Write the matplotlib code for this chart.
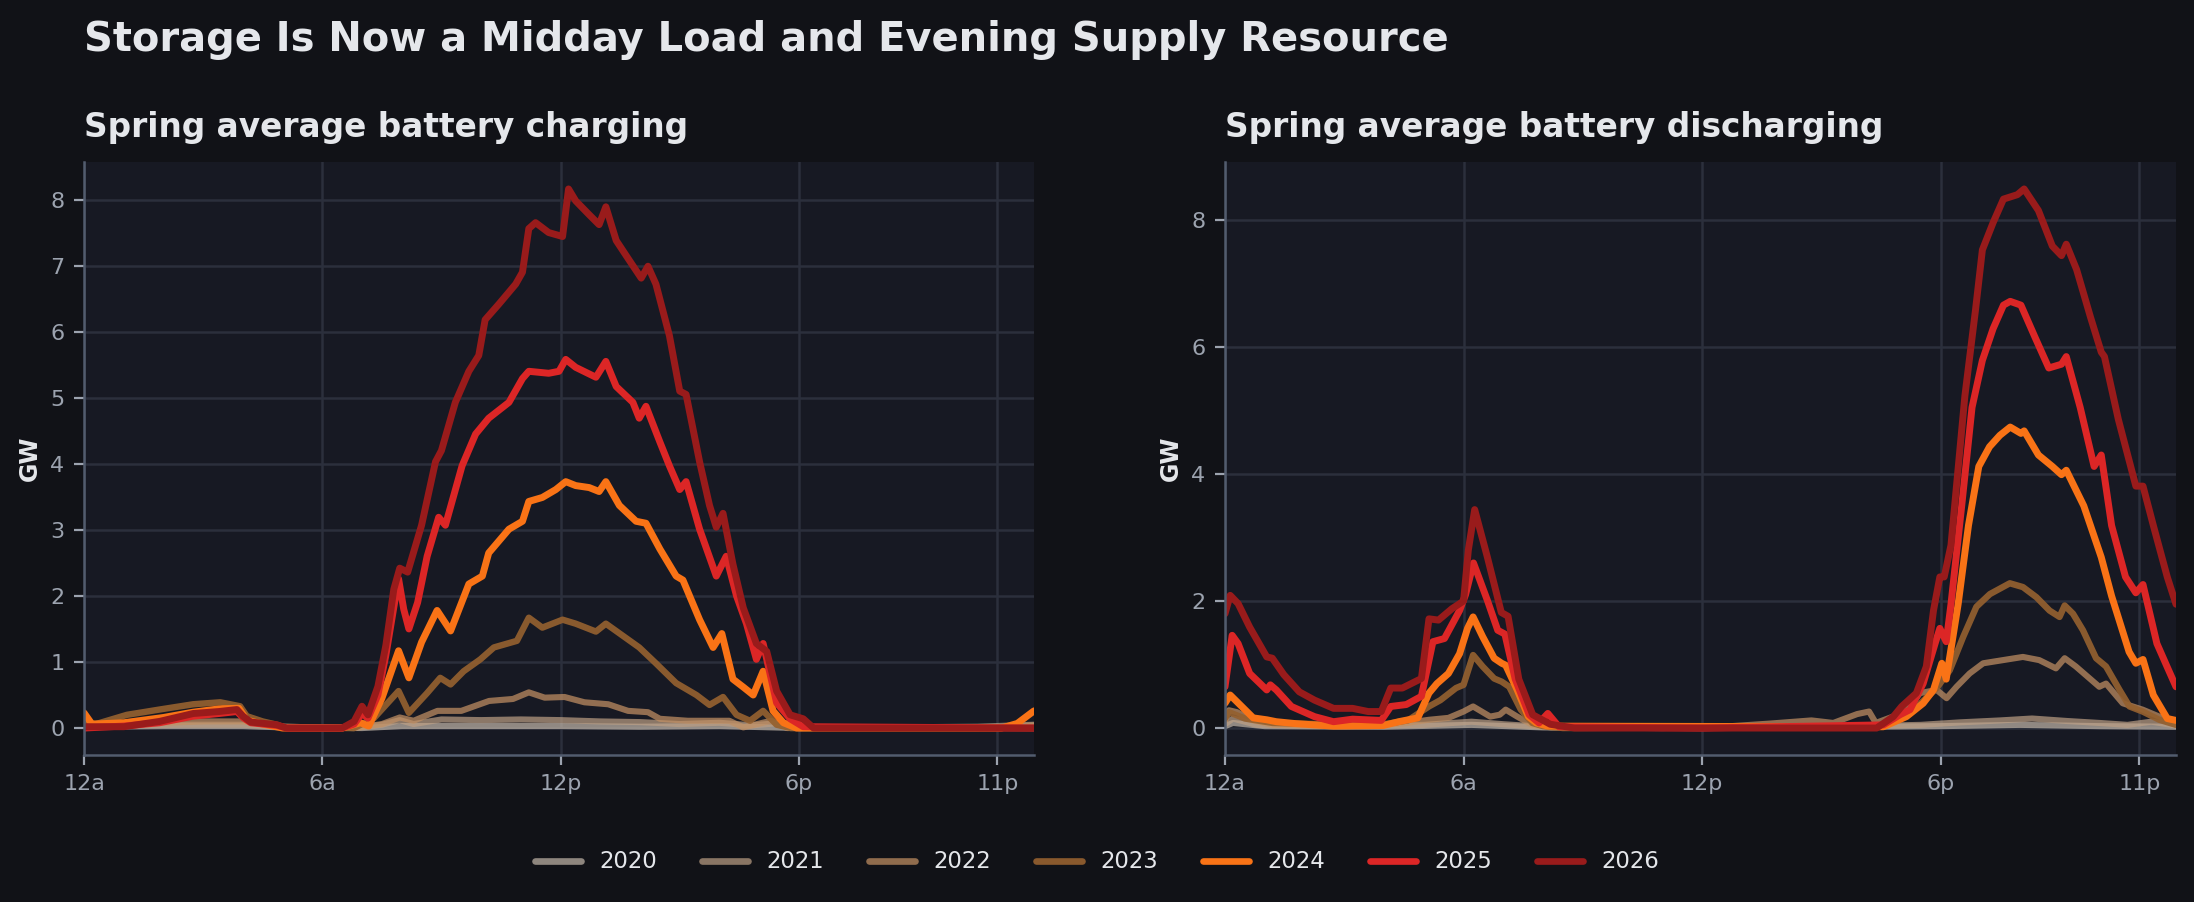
import matplotlib
matplotlib.use("Agg")
import matplotlib.pyplot as plt
from matplotlib.ticker import MultipleLocator, FixedLocator

# ---------------- data (hour of day, GW) ----------------
years = ["2020", "2021", "2022", "2023", "2024", "2025", "2026"]
year_colors = ["#c4b8ab", "#bda085", "#c29063", "#94602f", "#f97316", "#dc2626", "#991b1b"]
year_alpha = [0.70, 0.70, 0.72, 0.92, 1.0, 1.0, 1.0]
year_lw = [2.2, 2.2, 2.2, 2.3, 2.5, 2.5, 2.5]

tick_hours = [0, 6, 12, 18, 23]
tick_labels = ["12a", "6a", "12p", "6p", "11p"]
x_end = 23.92

chg_2020 = [(0, 0.02), (2, 0.03), (4, 0.03), (5, 0.01), (7, 0.0), (8, 0.03), (10, 0.03),
            (12, 0.03), (14, 0.02), (16, 0.03), (18, 0.0), (23.92, 0.01)]
chg_2021 = [(0, 0.05), (1, 0.04), (2.5, 0.05), (4, 0.05), (5, 0.02), (6.8, 0.0), (7.5, 0.05),
            (7.95, 0.12), (8.3, 0.06), (9, 0.13), (10, 0.12), (11, 0.13), (12, 0.12), (13, 0.1),
            (14, 0.09), (15, 0.06), (16, 0.08), (16.8, 0.04), (17.6, 0.08), (18, 0.0),
            (22.5, 0.02), (23.92, 0.05)]
chg_2022 = [(0, 0.03), (1, 0.06), (2, 0.08), (3, 0.1), (4, 0.1), (4.5, 0.06), (5, 0.02),
            (6.8, 0.0), (7.5, 0.06), (7.95, 0.16), (8.3, 0.11), (8.9, 0.26), (9.5, 0.26),
            (10.2, 0.41), (10.8, 0.44), (11.2, 0.54), (11.6, 0.46), (12.1, 0.47), (12.6, 0.39),
            (13.2, 0.36), (13.7, 0.26), (14.2, 0.24), (14.5, 0.14), (15.2, 0.11), (16.25, 0.11),
            (16.6, 0.01), (17.3, 0.11), (17.7, 0.0), (22.5, 0.0), (23.92, 0.04)]
chg_2023 = [(0, 0.08), (0.3, 0.06), (1.08, 0.2), (1.9, 0.28), (2.75, 0.36), (3.43, 0.39),
            (3.93, 0.33), (4.1, 0.18), (4.5, 0.1), (4.86, 0.05), (5.1, 0.0), (6.8, 0.0),
            (7.3, 0.15), (7.92, 0.56), (8.18, 0.23), (8.64, 0.53), (8.97, 0.76), (9.23, 0.66),
            (9.56, 0.86), (9.98, 1.04), (10.32, 1.22), (10.9, 1.32), (11.2, 1.67), (11.54, 1.52),
            (12.05, 1.64), (12.38, 1.58), (12.89, 1.46), (13.14, 1.58), (13.56, 1.4),
            (13.98, 1.22), (14.4, 0.98), (14.91, 0.68), (15.42, 0.5), (15.75, 0.35),
            (16.09, 0.47), (16.43, 0.2), (16.77, 0.11), (17.1, 0.26), (17.44, 0.05),
            (17.8, 0.0), (23.92, 0.0)]
chg_2024 = [(0, 0.23), (0.2, 0.06), (1, 0.08), (2, 0.16), (2.75, 0.24), (3.4, 0.29),
            (3.9, 0.3), (4.1, 0.12), (4.5, 0.06), (5, 0.0), (6.5, 0.0), (6.96, 0.08),
            (7.17, 0.03), (7.5, 0.45), (7.92, 1.17), (8.18, 0.76), (8.5, 1.3), (8.89, 1.78),
            (9.23, 1.47), (9.69, 2.18), (10.03, 2.3), (10.19, 2.65), (10.7, 3.01), (11.04, 3.13),
            (11.2, 3.43), (11.54, 3.49), (11.88, 3.61), (12.13, 3.73), (12.38, 3.67),
            (12.72, 3.64), (12.97, 3.58), (13.14, 3.73), (13.48, 3.37), (13.9, 3.13),
            (14.15, 3.1), (14.5, 2.71), (14.91, 2.3), (15.08, 2.24), (15.5, 1.64), (15.84, 1.22),
            (16.06, 1.43), (16.34, 0.74), (16.6, 0.62), (16.85, 0.5), (17.1, 0.86), (17.35, 0.26),
            (17.61, 0.08), (17.94, 0.0), (23.1, 0.0), (23.5, 0.07), (23.92, 0.26)]
chg_2025 = [(0, 0.0), (1, 0.03), (1.9, 0.08), (2.75, 0.18), (3.4, 0.22), (3.85, 0.25),
            (4.0, 0.16), (4.2, 0.08), (4.85, 0.04), (5.1, 0.0), (6.5, 0.0), (6.8, 0.06),
            (7.0, 0.22), (7.15, 0.15), (7.4, 0.5), (7.6, 1.1), (7.92, 2.26), (8.05, 1.8),
            (8.18, 1.5), (8.4, 1.9), (8.64, 2.6), (8.93, 3.19), (9.1, 3.07), (9.52, 3.97),
            (9.86, 4.45), (10.19, 4.69), (10.7, 4.93), (11.04, 5.29), (11.2, 5.4), (11.7, 5.37),
            (11.96, 5.4), (12.13, 5.58), (12.38, 5.46), (12.89, 5.31), (13.14, 5.55),
            (13.4, 5.17), (13.82, 4.93), (13.98, 4.69), (14.15, 4.87), (14.5, 4.33),
            (14.74, 3.97), (15.0, 3.61), (15.16, 3.73), (15.5, 3.01), (15.92, 2.3),
            (16.17, 2.6), (16.43, 2.0), (16.68, 1.58), (16.93, 1.04), (17.1, 1.28),
            (17.44, 0.38), (17.78, 0.14), (18.11, 0.02), (23.92, 0.0)]
chg_2026 = [(0, 0.02), (1.0, 0.02), (1.9, 0.1), (2.75, 0.22), (3.4, 0.25), (3.85, 0.28),
            (4.0, 0.18), (4.2, 0.09), (4.85, 0.05), (5.1, 0.0), (6.5, 0.0), (6.8, 0.1),
            (7.0, 0.33), (7.15, 0.2), (7.4, 0.63), (7.6, 1.25), (7.8, 2.1), (7.95, 2.42),
            (8.15, 2.36), (8.5, 3.07), (8.85, 4.03), (9.0, 4.2), (9.35, 4.93), (9.69, 5.4),
            (9.94, 5.64), (10.1, 6.18), (10.45, 6.42), (10.87, 6.72), (11.04, 6.9),
            (11.2, 7.56), (11.37, 7.65), (11.7, 7.5), (12.05, 7.44), (12.2, 8.16),
            (12.38, 7.98), (12.72, 7.77), (12.97, 7.62), (13.14, 7.89), (13.4, 7.38),
            (13.73, 7.08), (14.03, 6.81), (14.2, 6.99), (14.4, 6.72), (14.74, 5.94),
            (15.0, 5.1), (15.16, 5.05), (15.5, 4.03), (15.75, 3.37), (15.92, 3.04),
            (16.09, 3.25), (16.34, 2.48), (16.6, 1.82), (16.93, 1.28), (17.19, 1.16),
            (17.44, 0.56), (17.78, 0.2), (18.11, 0.14), (18.37, 0.0), (23.92, 0.0)]

dis_2020 = [(0, 0.03), (0.2, 0.08), (1, 0.03), (4, 0.02), (6.2, 0.05), (8, 0.01), (12, 0.0),
            (16, 0.02), (18, 0.03), (20, 0.05), (22, 0.03), (23.92, 0.02)]
dis_2021 = [(0, 0.06), (0.2, 0.15), (0.8, 0.05), (3, 0.03), (5, 0.05), (6.2, 0.1), (7, 0.06),
            (8, 0.02), (12, 0.01), (16, 0.03), (17.5, 0.05), (18.5, 0.09), (19.5, 0.12),
            (20.3, 0.15), (21.2, 0.11), (22, 0.08), (22.7, 0.05), (23.3, 0.1), (23.92, 0.04)]
dis_2022 = [(0, 0.12), (0.1, 0.28), (0.3, 0.25), (0.7, 0.12), (1.2, 0.05), (2.5, 0.04),
            (4.0, 0.05), (4.56, 0.08), (5.13, 0.13), (5.62, 0.16), (6.0, 0.26), (6.24, 0.34),
            (6.67, 0.18), (6.91, 0.21), (7.06, 0.29), (7.35, 0.18), (7.73, 0.05), (8.2, 0.01),
            (11.0, 0.0), (12.5, 0.02), (13.7, 0.07), (14.75, 0.12), (15.3, 0.08), (15.9, 0.22),
            (16.2, 0.26), (16.37, 0.08), (16.8, 0.18), (17.23, 0.34), (17.48, 0.55),
            (17.9, 0.6), (18.15, 0.47), (18.4, 0.65), (18.73, 0.86), (19.07, 1.02),
            (19.57, 1.07), (20.07, 1.12), (20.48, 1.07), (20.9, 0.94), (21.12, 1.1),
            (21.4, 0.97), (21.99, 0.65), (22.16, 0.7), (22.58, 0.39), (23.08, 0.29),
            (23.5, 0.18), (23.92, 0.07)]
dis_2023 = [(0, 0.15), (0.1, 0.25), (0.5, 0.15), (1.2, 0.08), (2.5, 0.06), (4.0, 0.06),
            (4.6, 0.12), (5.13, 0.34), (5.42, 0.44), (5.81, 0.63), (6.0, 0.68), (6.24, 1.15),
            (6.48, 0.97), (6.77, 0.78), (6.96, 0.73), (7.15, 0.65), (7.44, 0.29), (7.73, 0.08),
            (8.0, 0.03), (8.5, 0.0), (16.5, 0.02), (17.23, 0.23), (17.9, 0.63), (18.23, 0.91),
            (18.57, 1.44), (18.9, 1.91), (19.24, 2.11), (19.74, 2.28), (20.07, 2.22),
            (20.41, 2.06), (20.74, 1.85), (20.99, 1.75), (21.12, 1.93), (21.33, 1.8),
            (21.58, 1.54), (21.91, 1.1), (22.16, 0.97), (22.5, 0.6), (22.75, 0.34),
            (23.08, 0.26), (23.5, 0.13), (23.92, 0.05)]
dis_2024 = [(0, 0.39), (0.13, 0.52), (0.42, 0.34), (0.71, 0.16), (1.05, 0.13), (1.29, 0.1),
            (1.77, 0.07), (2.73, 0.03), (3.98, 0.04), (4.37, 0.1), (4.85, 0.16), (5.13, 0.55),
            (5.33, 0.7), (5.62, 0.86), (5.9, 1.17), (6.1, 1.57), (6.24, 1.75), (6.48, 1.44),
            (6.77, 1.1), (6.96, 1.02), (7.06, 0.99), (7.35, 0.6), (7.63, 0.18), (7.83, 0.08),
            (8.12, 0.03), (16.56, 0.02), (17.14, 0.18), (17.56, 0.39), (17.82, 0.6),
            (18.03, 1.02), (18.14, 0.77), (18.44, 1.95), (18.7, 3.19), (18.96, 4.12),
            (19.23, 4.43), (19.49, 4.61), (19.75, 4.74), (20.02, 4.64), (20.1, 4.68),
            (20.46, 4.3), (20.81, 4.12), (21.04, 3.99), (21.16, 4.06), (21.6, 3.5),
            (22.04, 2.69), (22.3, 2.08), (22.74, 1.2), (22.91, 1.02), (23.09, 1.08),
            (23.35, 0.52), (23.7, 0.15), (23.92, 0.12)]
dis_2025 = [(0, 0.65), (0.18, 1.46), (0.33, 1.33), (0.62, 0.86), (1.05, 0.6), (1.14, 0.68),
            (1.29, 0.6), (1.67, 0.34), (2.25, 0.18), (2.73, 0.1), (3.21, 0.14), (3.93, 0.12),
            (4.17, 0.34), (4.56, 0.37), (4.94, 0.5), (5.23, 1.36), (5.52, 1.41), (5.9, 1.85),
            (6.05, 2.1), (6.25, 2.6), (6.6, 2.01), (6.86, 1.54), (7.04, 1.48), (7.3, 0.77),
            (7.65, 0.21), (7.9, 0.08), (8.12, 0.23), (8.4, 0.02), (12.0, 0.0), (16.56, 0.05),
            (16.98, 0.21), (17.23, 0.29), (17.56, 0.7), (17.86, 1.33), (17.98, 1.57),
            (18.14, 1.36), (18.26, 1.95), (18.53, 3.5), (18.79, 5.05), (19.05, 5.79),
            (19.32, 6.29), (19.58, 6.66), (19.75, 6.72), (20.02, 6.66), (20.37, 6.16),
            (20.72, 5.67), (21.04, 5.73), (21.16, 5.85), (21.51, 5.05), (21.86, 4.12),
            (22.04, 4.3), (22.3, 3.19), (22.65, 2.38), (22.91, 2.13), (23.09, 2.26),
            (23.44, 1.33), (23.7, 0.96), (23.92, 0.65)]
dis_2026 = [(0, 1.8), (0.13, 2.09), (0.33, 1.96), (0.62, 1.59), (1.05, 1.12), (1.19, 1.1),
            (1.48, 0.84), (1.87, 0.57), (2.25, 0.44), (2.73, 0.31), (3.21, 0.31), (3.6, 0.26),
            (3.93, 0.26), (4.17, 0.63), (4.46, 0.63), (4.94, 0.78), (5.13, 1.72), (5.37, 1.7),
            (5.71, 1.88), (6.0, 2.0), (6.12, 2.8), (6.28, 3.44), (6.6, 2.69), (6.95, 1.82),
            (7.12, 1.76), (7.39, 0.77), (7.74, 0.21), (8.18, 0.06), (8.79, 0.0), (16.39, 0.0),
            (16.81, 0.18), (17.02, 0.34), (17.39, 0.55), (17.64, 0.97), (17.82, 1.85),
            (17.98, 2.38), (18.09, 2.38), (18.26, 2.88), (18.61, 5.23), (18.88, 6.6),
            (19.05, 7.53), (19.32, 7.96), (19.58, 8.33), (19.93, 8.4), (20.1, 8.49),
            (20.46, 8.15), (20.81, 7.59), (21.04, 7.44), (21.16, 7.62), (21.42, 7.22),
            (21.77, 6.47), (22.04, 5.92), (22.12, 5.85), (22.47, 4.86), (22.91, 3.81),
            (23.09, 3.81), (23.35, 3.19), (23.7, 2.38), (23.92, 1.95)]

charging = [chg_2020, chg_2021, chg_2022, chg_2023, chg_2024, chg_2025, chg_2026]
discharging = [dis_2020, dis_2021, dis_2022, dis_2023, dis_2024, dis_2025, dis_2026]

# ---------------- style ----------------
FIG_BG = "#111217"
AX_BG = "#171923"
GRID = "#2b2f3c"
SPINE = "#525c6e"
TICK = "#9ca3af"
TEXT = "#e5e7eb"

plt.rcParams["font.family"] = ["DejaVu Sans"]

fig = plt.figure(figsize=(10.97, 4.51), dpi=200, facecolor=FIG_BG)
W, H = 2194, 902
ax_l = fig.add_axes([84 / W, 1 - 755 / H, (1034 - 84) / W, (755 - 162) / H])
ax_r = fig.add_axes([1225 / W, 1 - 755 / H, (2176 - 1225) / W, (755 - 162) / H])

panels = [(ax_l, charging, "Spring average battery charging", 1),
          (ax_r, discharging, "Spring average battery discharging", 2)]

for ax, series, title, ystep in panels:
    ax.set_facecolor(AX_BG)
    for yr, data, c, a, lw in zip(years, series, year_colors, year_alpha, year_lw):
        xs = [p[0] for p in data]
        ys = [p[1] for p in data]
        ax.plot(xs, ys, color=c, alpha=a, lw=lw, label=yr,
                solid_joinstyle="round", solid_capstyle="round")
    ax.set_xlim(0, x_end)
    ax.margins(y=0.05)
    ax.xaxis.set_major_locator(FixedLocator(tick_hours))
    ax.set_xticklabels(tick_labels)
    ax.yaxis.set_major_locator(MultipleLocator(ystep))
    ax.grid(True, color=GRID, lw=0.9)
    ax.set_axisbelow(True)
    for s in ("top", "right"):
        ax.spines[s].set_visible(False)
    for s in ("left", "bottom"):
        ax.spines[s].set_color(SPINE)
        ax.spines[s].set_linewidth(0.9)
    ax.tick_params(colors=TICK, labelsize=8, length=3.5, width=0.8)
    ax.set_ylabel("GW", color=TEXT, fontsize=8.5, fontweight="bold", labelpad=3)
    ax.set_title(title, loc="left", color=TEXT, fontsize=11.8, fontweight="bold", pad=9)

fig.text(84 / W, 1 - 51 / H, "Storage Is Now a Midday Load and Evening Supply Resource",
         color=TEXT, fontsize=14.4, fontweight="bold", ha="left", va="baseline")

handles, labels = ax_l.get_legend_handles_labels()
leg = fig.legend(handles, labels, loc="center", bbox_to_anchor=(0.5, 1 - 862 / H),
                 ncol=7, frameon=False, fontsize=8.2, columnspacing=2.0,
                 handlelength=2.0, handletextpad=0.8)
for t in leg.get_texts():
    t.set_color(TEXT)
for h in leg.legend_handles:
    h.set_linewidth(2.4)

fig.savefig("out.png", dpi=200, facecolor=FIG_BG)
